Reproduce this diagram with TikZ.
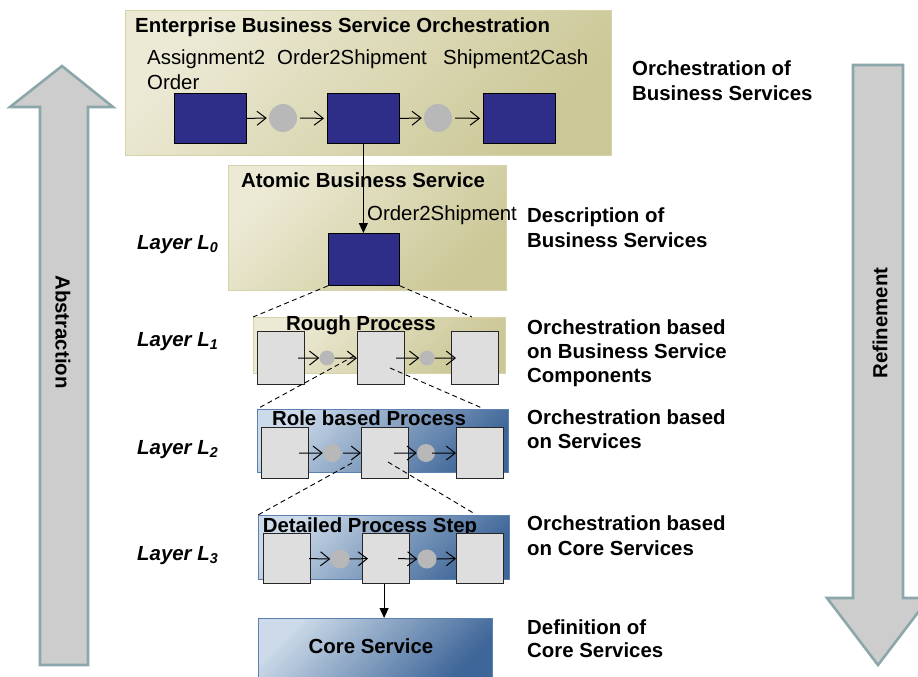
\documentclass[tikz,border=0pt]{standalone}
\usepackage{fontspec}
\setmainfont{Liberation Sans}
\usetikzlibrary{arrows.meta}
\definecolor{olivelight}{RGB}{236,234,213}
\definecolor{olivedark}{RGB}{203,199,150}
\definecolor{oliveborder}{RGB}{214,211,170}
\definecolor{bluelight}{RGB}{204,218,233}
\definecolor{bluedark}{RGB}{62,102,152}
\definecolor{blueborder}{RGB}{92,128,176}
\definecolor{navy}{RGB}{46,46,136}
\definecolor{dotgray}{RGB}{184,184,184}
\definecolor{boxgray}{RGB}{222,222,222}
\definecolor{bigfill}{RGB}{205,205,205}
\definecolor{bigborder}{RGB}{140,167,170}
\tikzset{
  olivebox/.style={draw=oliveborder, line width=0.8pt, top color=olivelight, bottom color=olivedark, shading angle=45, anchor=north west, inner sep=0},
  bluebox/.style={draw=blueborder, line width=1pt, top color=bluelight, bottom color=bluedark, shading angle=45, anchor=north west, inner sep=0},
  navyblk/.style={draw=black, line width=0.8pt, fill=navy, anchor=north west, inner sep=0, minimum width=72pt, minimum height=50pt},
  graysq/.style={draw=black!85, line width=1.2pt, fill=boxgray, anchor=north west, inner sep=0, minimum width=47pt, minimum height=52pt},
  gdot/.style={circle, fill=dotgray, inner sep=0},
  flowarr/.style={line width=1pt, -{Straight Barb[length=9pt,width=14pt,line width=1pt]}},
  downarr/.style={line width=1pt, -{Triangle[length=10pt,width=9pt]}},
  zoomline/.style={line width=0.9pt, dash pattern=on 5pt off 3.5pt},
  bigarr/.style={fill=bigfill, draw=bigborder, line width=2.6pt, line join=miter},
  txt/.style={anchor=base west, inner sep=0},
  boldtxt/.style={anchor=base west, inner sep=0, font=\fontsize{20.4}{24}\selectfont\bfseries},
  ctitle/.style={anchor=base, inner sep=0, font=\fontsize{20.4}{24}\selectfont\bfseries},
  layer/.style={anchor=base west, inner sep=0, font=\fontsize{20.4}{24}\selectfont\bfseries\itshape},
}
\begin{document}
\begin{tikzpicture}[x=1pt,y=-1pt,font=\fontsize{20.4}{24}\selectfont]
\clip (0,0) rectangle (918,677);
\fill[white] (0,0) rectangle (918,677);

% big side arrows
\draw[bigarr] (62,66) -- (113,107) -- (88,107) -- (88,665) -- (40,665) -- (40,107) -- (10,107) -- cycle;
\node[rotate=-90, inner sep=0, font=\fontsize{20.4}{24}\selectfont\bfseries] (abstr) at (63,332) {Abstraction};
\draw[bigarr] (853,65) -- (903,65) -- (903,598) -- (929,598) -- (878,665) -- (827,598) -- (853,598) -- cycle;
\node[rotate=90, inner sep=0, font=\fontsize{20.4}{24}\selectfont\bfseries] (refin) at (880,323) {Refinement};

% Enterprise level
\node[olivebox, minimum width=486pt, minimum height=145pt] (ebso) at (125,10) {};
\node[boldtxt] (ebsot) at (135,33) {Enterprise Business Service Orchestration};
\node[txt] (t1) at (147,64) {Assignment2};
\node[txt] (t1b) at (147,89) {Order};
\node[txt] (t2) at (277,64) {Order2Shipment};
\node[txt] (t3) at (443,64) {Shipment2Cash};
\node[navyblk] (b1) at (174,93) {};
\node[navyblk] (b2) at (327,93) {};
\node[navyblk] (b3) at (483,93) {};
\node[gdot, minimum size=28pt] (c1) at (283,118) {};
\node[gdot, minimum size=28pt] (c2) at (438,118) {};
\draw[flowarr, shorten >=2pt] (b1.east) -- (c1.west);
\draw[flowarr, shorten <=3pt, shorten >=3pt] (c1.east) -- (b2.west);
\draw[flowarr, shorten >=2pt] (b2.east) -- (c2.west);
\draw[flowarr, shorten <=3pt, shorten >=3pt] (c2.east) -- (b3.west);
\node[boldtxt] (r0a) at (632,75) {Orchestration of};
\node[boldtxt] (r0b) at (632,100) {Business Services};

% Atomic level (L0)
\node[olivebox, minimum width=278pt, minimum height=125pt] (atom) at (228,165) {};
\node[boldtxt] (atomt) at (241,187) {Atomic Business Service};
\node[txt] (o2s) at (367,220) {Order2Shipment};
\node[navyblk, minimum width=71pt, minimum height=52pt] (l0) at (328,233) {};
\draw[downarr] (b2.south) -- (b2.south |- l0.north);
\node[boldtxt] (d0a) at (527,222) {Description of};
\node[boldtxt] (d0b) at (527,247) {Business Services};
\node[layer] (lay0) at (137,249) {Layer L\textsubscript{0}};

% L1
\node[olivebox, minimum width=252pt, minimum height=56pt] (l1box) at (253,317) {};
\node[ctitle] (l1t) at (361,330) {Rough Process};
\node[graysq, minimum height=53pt] (s11) at (257,331) {};
\node[graysq, minimum height=53pt] (s12) at (357,331) {};
\node[graysq, minimum height=53pt] (s13) at (451,331) {};
\node[gdot, minimum size=15pt] (c11) at (327,358) {};
\node[gdot, minimum size=15pt] (c12) at (427,358) {};
\draw[flowarr] ([xshift=-7pt]s11.east) -- (c11.west);
\draw[flowarr] (c11.east) -- (s12.west);
\draw[flowarr] ([xshift=-9pt]s12.east) -- (c12.west);
\draw[flowarr] (c12.east) -- ([xshift=5pt]s13.west);
\coordinate (z01) at (472,317);
\draw[zoomline] (l0.south west) -- (l1box.north west);
\draw[zoomline] (l0.south east) -- (z01);
\node[layer] (lay1) at (137,346) {Layer L\textsubscript{1}};
\node[boldtxt] (d1a) at (527,334) {Orchestration based};
\node[boldtxt] (d1b) at (527,358) {on Business Service};
\node[boldtxt] (d1c) at (527,382) {Components};

% L2
\node[bluebox, minimum width=251pt, minimum height=63pt] (l2box) at (257,409) {};
\node[ctitle] (l2t) at (369,425) {Role based Process};
\node[graysq, minimum height=51pt] (s21) at (261,427) {};
\node[graysq, minimum height=51pt] (s22) at (361,427) {};
\node[graysq, minimum height=51pt] (s23) at (456,427) {};
\node[gdot, minimum size=18pt] (c21) at (332,453) {};
\node[gdot, minimum size=18pt] (c22) at (426,453) {};
\draw[flowarr] ([xshift=-10pt]s21.east) -- (c21.west);
\draw[flowarr] ([xshift=2pt]c21.east) -- (s22.west);
\draw[flowarr] ([xshift=-15pt]s22.east) -- (c22.west);
\draw[flowarr] ([xshift=-3pt]c22.east) -- (s23.west);
\coordinate (z11) at (354,356);
\coordinate (z12) at (390,368);
\coordinate (z13) at (482,408);
\draw[zoomline] (z11) -- (l2box.north west);
\draw[zoomline] (z12) -- (z13);
\node[layer] (lay2) at (137,454) {Layer L\textsubscript{2}};
\node[boldtxt] (d2a) at (527,424) {Orchestration based};
\node[boldtxt] (d2b) at (527,448) {on Services};

% L3
\node[bluebox, minimum width=251pt, minimum height=64pt] (l3box) at (258,515) {};
\node[ctitle] (l3t) at (370,532) {Detailed Process Step};
\node[graysq, minimum height=50pt] (s31) at (263,533) {};
\node[graysq, minimum height=50pt] (s32) at (362,533) {};
\node[graysq, minimum height=50pt] (s33) at (456,533) {};
\node[gdot, minimum size=19pt] (c31) at (340,559) {};
\node[gdot, minimum size=19pt] (c32) at (427,559) {};
\draw[flowarr] ([xshift=-2pt]s31.east) -- (c31.west);
\draw[flowarr] (c31.east) -- ([xshift=6pt]s32.west);
\draw[flowarr] ([xshift=-12pt]s32.east) -- (c32.west);
\draw[flowarr] (c32.east) -- (s33.west);
\coordinate (z21) at (352,463);
\coordinate (z22) at (388,462);
\coordinate (z23) at (475,514);
\draw[zoomline] (z21) -- (l3box.north west);
\draw[zoomline] (z22) -- (z23);
\node[layer] (lay3) at (137,560) {Layer L\textsubscript{3}};
\node[boldtxt] (d3a) at (527,530) {Orchestration based};
\node[boldtxt] (d3b) at (527,555) {on Core Services};

% Core service
\node[bluebox, minimum width=234pt, minimum height=62pt] (core) at (258,618) {};
\node[ctitle] (coret) at (371,653) {Core Service};
\draw[downarr] ([xshift=-2pt]s32.south) -- ([xshift=-2pt]s32.south |- core.north);
\node[boldtxt] (d4a) at (527,634) {Definition of};
\node[boldtxt] (d4b) at (527,657) {Core Services};
\end{tikzpicture}
\end{document}
